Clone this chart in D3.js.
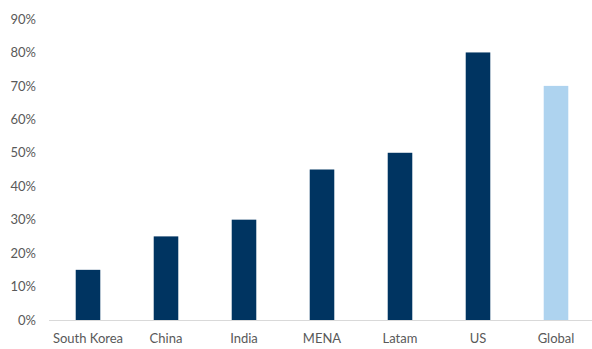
<!DOCTYPE html>
<html><head><meta charset="utf-8">
<script src="https://cdn.jsdelivr.net/npm/d3@7"></script>
<style>body{margin:0;background:#fff}svg{display:block}</style>
</head><body><svg id="c" width="592" height="349"></svg>
<script>
const categories = ["South Korea","China","India","MENA","Latam","US","Global"];
const values = [15,25,30,45,50,80,70];
const barColors = ["#003461","#003461","#003461","#003461","#003461","#003461","#AED3EF"];
const yTicks = [0,10,20,30,40,50,60,70,80,90];

const svg = d3.select("#c");
const x = d3.scaleBand().domain(categories).range([49,595]).paddingInner(0.685).paddingOuter(0.3425);
const y = d3.scaleLinear().domain([0,90]).range([320,19]);
const font = "Lato, 'Open Sans', sans-serif";

svg.selectAll("rect.bar").data(categories).join("rect")
  .attr("class","bar")
  .attr("x", d=>x(d)).attr("width", x.bandwidth())
  .attr("y", (d,i)=>y(values[i])).attr("height", (d,i)=>y(0)-y(values[i]))
  .attr("fill", (d,i)=>barColors[i]);

const yAxis = svg.append("g").attr("transform","translate(36,0)")
  .call(d3.axisLeft(y).tickValues(yTicks).tickFormat(d=>d+"%").tickSize(0).tickPadding(0));
yAxis.select(".domain").remove();
yAxis.selectAll("text").attr("font-family",font).attr("font-size",13).attr("fill","#595959");

const xAxis = svg.append("g").attr("transform","translate(0,320)")
  .call(d3.axisBottom(x).tickSize(0).tickPadding(14));
xAxis.select(".domain").attr("stroke","#D9D9D9").attr("d","M49,0.5H592");
xAxis.selectAll("text").attr("font-family",font).attr("font-size",13).attr("fill","#595959");
</script></body></html>
